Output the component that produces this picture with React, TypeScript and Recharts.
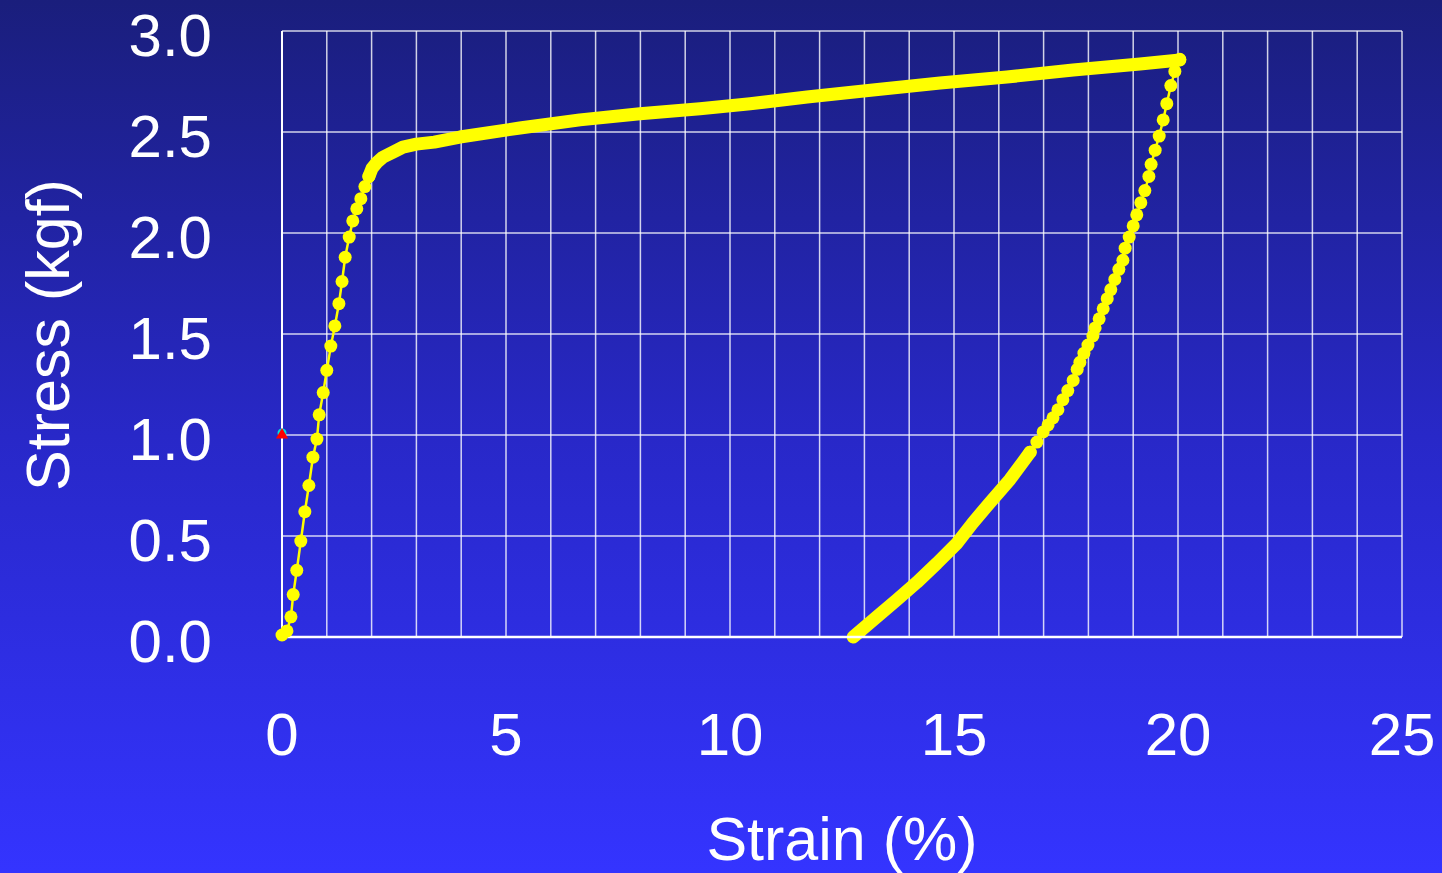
import {
  CartesianGrid,
  ComposedChart,
  Line,
  Scatter,
  XAxis,
  YAxis,
} from 'recharts';

// Values: strain (%) vs stress (kgf).
const LOADING_RISE = [
  { x: 0, y: 0.01 },
  { x: 0.11, y: 0.03 },
  { x: 0.2, y: 0.1 },
  { x: 0.25, y: 0.21 },
  { x: 0.33, y: 0.33 },
  { x: 0.42, y: 0.475 },
  { x: 0.51, y: 0.62 },
  { x: 0.6, y: 0.75 },
  { x: 0.69, y: 0.89 },
  { x: 0.78, y: 0.98 },
  { x: 0.83, y: 1.1 },
  { x: 0.92, y: 1.21 },
  { x: 1.0, y: 1.32 },
  { x: 1.09, y: 1.44 },
  { x: 1.18, y: 1.54 },
  { x: 1.27, y: 1.65 },
  { x: 1.34, y: 1.76 },
  { x: 1.41, y: 1.88 },
  { x: 1.5, y: 1.98 },
  { x: 1.58, y: 2.06 },
  { x: 1.67, y: 2.12 },
  { x: 1.76, y: 2.17 },
  { x: 1.85, y: 2.23 },
  { x: 1.94, y: 2.28 },
];

// dense part of the loading branch (points overlap into a band)
const LOADING_PLATEAU = [
  { x: 1.94, y: 2.28 },
  { x: 2.01, y: 2.32 },
  { x: 2.12, y: 2.35 },
  { x: 2.25, y: 2.375 },
  { x: 2.48, y: 2.4 },
  { x: 2.7, y: 2.425 },
  { x: 3.0, y: 2.44 },
  { x: 3.4, y: 2.45 },
  { x: 3.97, y: 2.475 },
  { x: 5.31, y: 2.52 },
  { x: 6.65, y: 2.56 },
  { x: 7.99, y: 2.59 },
  { x: 9.33, y: 2.615 },
  { x: 10.45, y: 2.64 },
  { x: 11.72, y: 2.673 },
  { x: 13.19, y: 2.708 },
  { x: 14.69, y: 2.743 },
  { x: 16.18, y: 2.772 },
  { x: 17.66, y: 2.807 },
  { x: 19.15, y: 2.837 },
  { x: 20.04, y: 2.856 },
];

const UNLOADING_TOP = [
  { x: 20.04, y: 2.86 },
  { x: 19.93, y: 2.8 },
  { x: 19.84, y: 2.73 },
  { x: 19.75, y: 2.64 },
  { x: 19.67, y: 2.56 },
  { x: 19.58, y: 2.48 },
  { x: 19.49, y: 2.41 },
  { x: 19.4, y: 2.34 },
  { x: 19.35, y: 2.28 },
  { x: 19.26, y: 2.21 },
  { x: 19.17, y: 2.15 },
  { x: 19.08, y: 2.09 },
  { x: 19.0, y: 2.035 },
  { x: 18.91, y: 1.98 },
  { x: 18.82, y: 1.925 },
  { x: 18.77, y: 1.865 },
  { x: 18.68, y: 1.82 },
  { x: 18.59, y: 1.77 },
  { x: 18.5, y: 1.72 },
  { x: 18.42, y: 1.675 },
  { x: 18.33, y: 1.625 },
  { x: 18.24, y: 1.575 },
  { x: 18.15, y: 1.53 },
  { x: 18.1, y: 1.49 },
  { x: 17.99, y: 1.445 },
  { x: 17.9, y: 1.405 },
  { x: 17.81, y: 1.36 },
  { x: 17.75, y: 1.325 },
  { x: 17.66, y: 1.27 },
  { x: 17.54, y: 1.22 },
  { x: 17.43, y: 1.175 },
  { x: 17.32, y: 1.125 },
  { x: 17.21, y: 1.085 },
  { x: 17.1, y: 1.05 },
  { x: 16.99, y: 1.015 },
  { x: 16.85, y: 0.965 },
  { x: 16.7, y: 0.915 },
];

const UNLOADING_BOTTOM = [
  { x: 16.7, y: 0.915 },
  { x: 16.25, y: 0.78 },
  { x: 15.8, y: 0.665 },
  { x: 15.42, y: 0.565 },
  { x: 15.07, y: 0.465 },
  { x: 14.62, y: 0.365 },
  { x: 14.17, y: 0.27 },
  { x: 13.73, y: 0.185 },
  { x: 13.28, y: 0.1 },
  { x: 12.75, y: 0.0 },
];

const MARKER_TRIANGLE = [{ x: 0, y: 1.0 }];
const MARKER_DOT = [{ x: 0, y: 1.01 }];

// one grid line per unit of strain, a label every 5
const X_TICKS = [
  0, 1, 2, 3, 4, 5, 6, 7, 8, 9, 10, 11, 12, 13, 14, 15, 16, 17, 18, 19, 20,
  21, 22, 23, 24, 25,
];
const X_LABELLED = [0, 5, 10, 15, 20, 25];
const Y_TICKS = [0, 0.5, 1.0, 1.5, 2.0, 2.5, 3.0];

const FONT = '"Liberation Sans", Arial, sans-serif';
const YELLOW = '#ffff00';

function XTick({ x, y, payload }: any) {
  if (!X_LABELLED.includes(payload.value)) return <g />;
  return (
    <text x={x} y={y + 43} textAnchor="middle" fill="#fff" fontSize={60} fontFamily={FONT}>
      {payload.value}
    </text>
  );
}

function YTick({ x, y, payload }: any) {
  return (
    <text x={x} y={y + 25} textAnchor="end" fill="#fff" fontSize={60} fontFamily={FONT}>
      {Number(payload.value).toFixed(1)}
    </text>
  );
}

function YellowDot({ cx, cy, index }: any) {
  return <circle key={index} cx={cx} cy={cy} r={6.5} fill={YELLOW} />;
}

export default function App() {
  return (
    <div
      style={{
        position: 'absolute',
        left: 0,
        top: 0,
        width: 1442,
        height: 873,
        background: 'linear-gradient(to bottom, #1a1e7c 0%, #2828c8 50%, #3434ff 100%)',
      }}
    >
      <ComposedChart
        width={1442}
        height={873}
        margin={{ top: 31, right: 40, bottom: 0, left: 0 }}
      >
        <CartesianGrid stroke="#ffffff" strokeOpacity={0.8} strokeWidth={1.5} />
        <XAxis
          type="number"
          dataKey="x"
          domain={[0, 25]}
          ticks={X_TICKS}
          interval={0}
          height={236}
          tickSize={0}
          tickMargin={75}
          tick={<XTick />}
          axisLine={{ stroke: '#ffffff', strokeWidth: 2.5 }}
          label={{
            content: () => (
              <text x={842} y={860} textAnchor="middle" fill="#fff" fontSize={61} fontFamily={FONT}>
                Strain (%)
              </text>
            ),
          }}
        />
        <YAxis
          type="number"
          domain={[0, 3]}
          ticks={Y_TICKS}
          interval={0}
          width={282}
          tickSize={0}
          tickMargin={70}
          tick={<YTick />}
          axisLine={{ stroke: '#ffffff', strokeWidth: 2 }}
          label={{
            content: () => (
              <text
                x={48}
                y={335}
                transform="rotate(-90 48 335)"
                textAnchor="middle"
                dominantBaseline="central"
                fill="#fff"
                fontSize={61}
                fontFamily={FONT}
              >
                Stress (kgf)
              </text>
            ),
          }}
        />
        <Line
          data={LOADING_PLATEAU}
          dataKey="y"
          type="linear"
          stroke={YELLOW}
          strokeWidth={13}
          strokeLinecap="round"
          strokeLinejoin="round"
          dot={false}
          activeDot={false}
          isAnimationActive={false}
        />
        <Line
          data={UNLOADING_BOTTOM}
          dataKey="y"
          type="linear"
          stroke={YELLOW}
          strokeWidth={13}
          strokeLinecap="round"
          strokeLinejoin="round"
          dot={false}
          activeDot={false}
          isAnimationActive={false}
        />
        <Line
          data={LOADING_RISE}
          dataKey="y"
          type="linear"
          stroke={YELLOW}
          strokeWidth={2.5}
          dot={<YellowDot />}
          activeDot={false}
          isAnimationActive={false}
        />
        <Line
          data={UNLOADING_TOP}
          dataKey="y"
          type="linear"
          stroke={YELLOW}
          strokeWidth={2.5}
          dot={<YellowDot />}
          activeDot={false}
          isAnimationActive={false}
        />
        <Scatter
          data={MARKER_DOT}
          dataKey="y"
          fill="#00e0e0"
          shape="circle"
          isAnimationActive={false}
        />
        <Scatter
          data={MARKER_TRIANGLE}
          dataKey="y"
          fill="#ff0000"
          shape="triangle"
          isAnimationActive={false}
        />
      </ComposedChart>
    </div>
  );
}
